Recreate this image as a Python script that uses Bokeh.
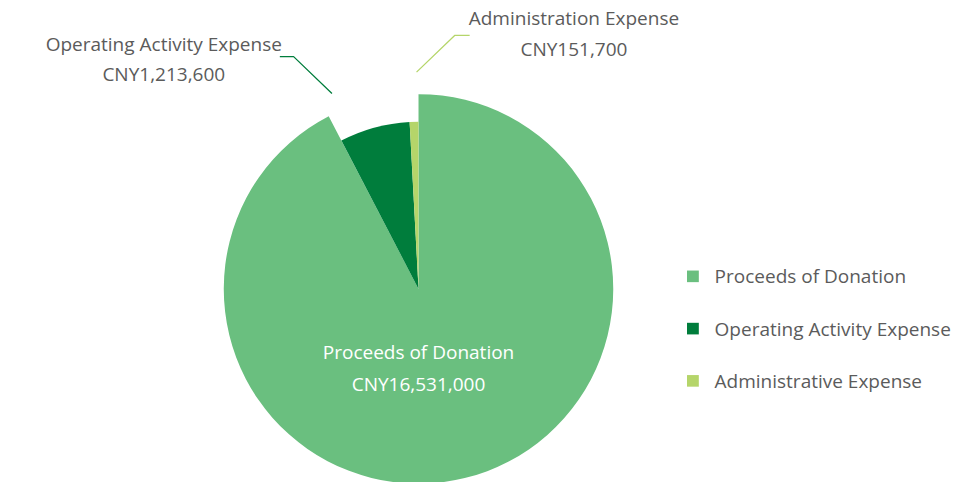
import math
from bokeh.plotting import figure
from bokeh.models import Range1d
from bokeh.core.properties import value
from bokeh.embed import file_html
from bokeh.resources import INLINE

# ---- data ----
categories = ["Proceeds of Donation", "Operating Activity Expense", "Administrative Expense"]
amounts = [16531000, 1213600, 151700]
callout_names = ["Proceeds of Donation", "Operating Activity Expense", "Administration Expense"]
colors = ["#6abf7f", "#007d3c", "#b5d56a"]

W, H = 957, 482
FONT = "Open Sans"
GRAY = "#5b5b5b"
FS = "19px"

REF_W, REF_H = 973, 498

def Y(py):
    return REF_H - py

p = figure(width=W, height=H, output_backend="svg", toolbar_location=None,
           x_range=Range1d(0, REF_W), y_range=Range1d(0, REF_H),
           min_border=0, outline_line_color=None)
p.axis.visible = False
p.grid.visible = False
p.background_fill_color = "white"
p.border_fill_color = "white"

total = sum(amounts)
cx, cy = 425, Y(298)
radii = [198, 170, 170]
cum = 0.0
for amt, col, r in zip(amounts, colors, radii):
    a0 = cum / total * 2 * math.pi
    cum += amt
    a1 = cum / total * 2 * math.pi
    p.wedge(x=cx, y=cy, radius=r, start_angle=math.pi / 2 - a1, end_angle=math.pi / 2 - a0,
            fill_color=col, line_color=None)

def fmt(v):
    return "CNY{:,}".format(v)

# inside label for the big slice
p.text(x=[425, 425], y=[Y(363), Y(396)], text=[callout_names[0], fmt(amounts[0])],
       text_color="white", text_font=value(FONT), text_font_size=FS,
       text_align="center", text_baseline="middle")

# callouts
p.text(x=[166, 166], y=[Y(45), Y(76)], text=[callout_names[1], fmt(amounts[1])],
       text_color=GRAY, text_font=value(FONT), text_font_size=FS,
       text_align="center", text_baseline="middle")
p.line(x=[284, 298, 337], y=[Y(58), Y(58), Y(96)], line_color=colors[1], line_width=1.3)

p.text(x=[583, 583], y=[Y(18), Y(50)], text=[callout_names[2], fmt(amounts[2])],
       text_color=GRAY, text_font=value(FONT), text_font_size=FS,
       text_align="center", text_baseline="middle")
p.line(x=[477, 462, 423], y=[Y(36), Y(36), Y(74)], line_color=colors[2], line_width=1.3)

# legend
leg_y = [Y(285), Y(339), Y(393)]
p.rect(x=[704] * 3, y=leg_y, width=12, height=12, fill_color=colors, line_color=None)
p.text(x=[726] * 3, y=leg_y, text=categories, text_color=GRAY,
       text_font=value(FONT), text_font_size=FS,
       text_align="left", text_baseline="middle")

open("out.html", "w").write(file_html(p, INLINE))
